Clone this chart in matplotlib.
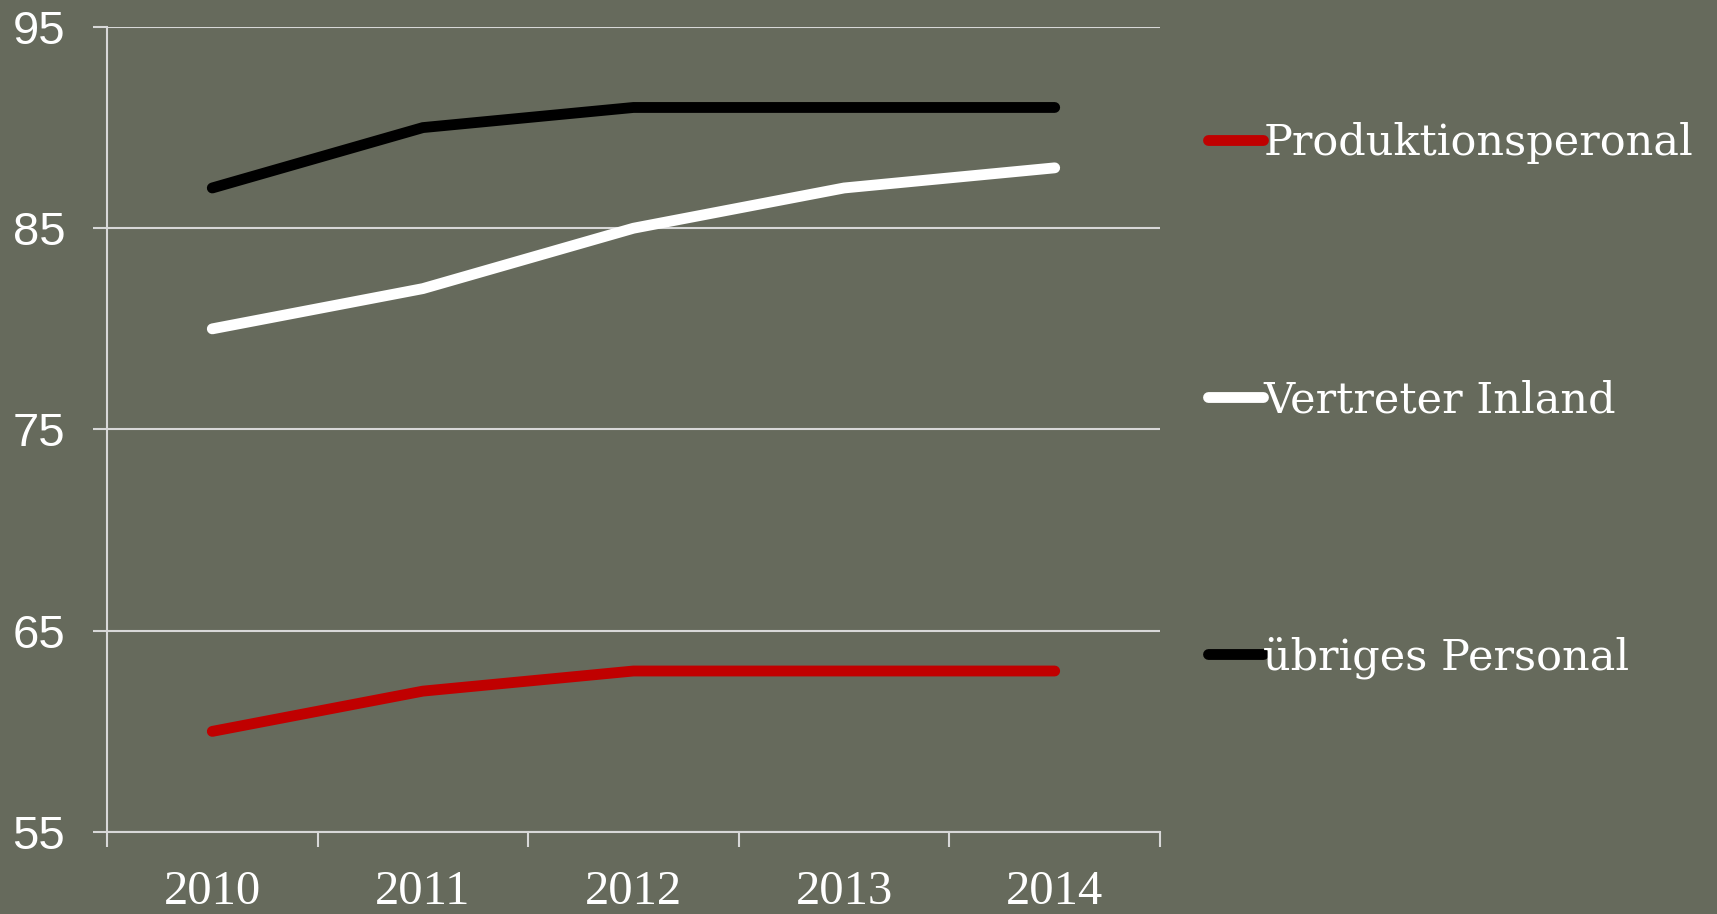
import matplotlib
matplotlib.use("Agg")
import matplotlib.pyplot as plt
from matplotlib.ticker import FixedLocator

# Staff ratings per year
years = ["2010", "2011", "2012", "2013", "2014"]
produktion = [60, 62, 63, 63, 63]
vertreter = [80, 82, 85, 87, 88]
uebrige = [87, 90, 91, 91, 91]

series_names = ["Produktionsperonal", "Vertreter Inland", "übriges Personal"]
series_colors = ["#c00000", "#ffffff", "#000000"]

y_ticks = [55, 65, 75, 85, 95]

bg = "#666a5c"
grid_col = "#d8d8d8"

fig = plt.figure(figsize=(17.17, 9.14), dpi=100, facecolor=bg)
ax = fig.add_axes([0.0623, 0.0897, 0.6133, 0.8808])
ax.set_facecolor(bg)

x = list(range(len(years)))
lines = []
for vals, name, col in zip([produktion, vertreter, uebrige], series_names, series_colors):
    ln, = ax.plot(x, vals, color=col, lw=7.8, solid_capstyle="round",
                  solid_joinstyle="miter", label=name, zorder=3)
    lines.append(ln)

ax.set_xlim(-0.5, len(years) - 0.5)
ax.set_ylim(55, 95)

# category boundaries carry the tick marks, centres carry the labels
ax.xaxis.set_major_locator(FixedLocator([i - 0.5 for i in range(len(years) + 1)]))
ax.xaxis.set_minor_locator(FixedLocator(x))
ax.set_xticklabels([], minor=False)
ax.set_xticklabels(years, minor=True, fontfamily="Liberation Serif", fontsize=35, color="white")
ax.tick_params(axis="x", which="major", length=11, width=1.5, color=grid_col, direction="out")
ax.tick_params(axis="x", which="minor", length=0, pad=27)

ax.set_yticks(y_ticks)
ax.set_yticklabels([str(v) for v in y_ticks], fontfamily="Liberation Sans", fontsize=34, color="white")
ax.tick_params(axis="y", length=10, width=1.5, color=grid_col, direction="out", pad=20)

ax.grid(axis="y", color=grid_col, lw=1.5, zorder=1)
for side in ["top", "right"]:
    ax.spines[side].set_visible(False)
for side in ["left", "bottom"]:
    ax.spines[side].set_color(grid_col)
    ax.spines[side].set_linewidth(1.5)

leg = fig.legend(handles=lines, loc="upper left", bbox_to_anchor=(0.681, 0.909),
                 frameon=False, prop={"family": "DejaVu Serif", "size": 31},
                 labelcolor="white", handlelength=1.28, handletextpad=0.0,
                 labelspacing=5.0)

fig.savefig("out.png", dpi=100, facecolor=bg)
